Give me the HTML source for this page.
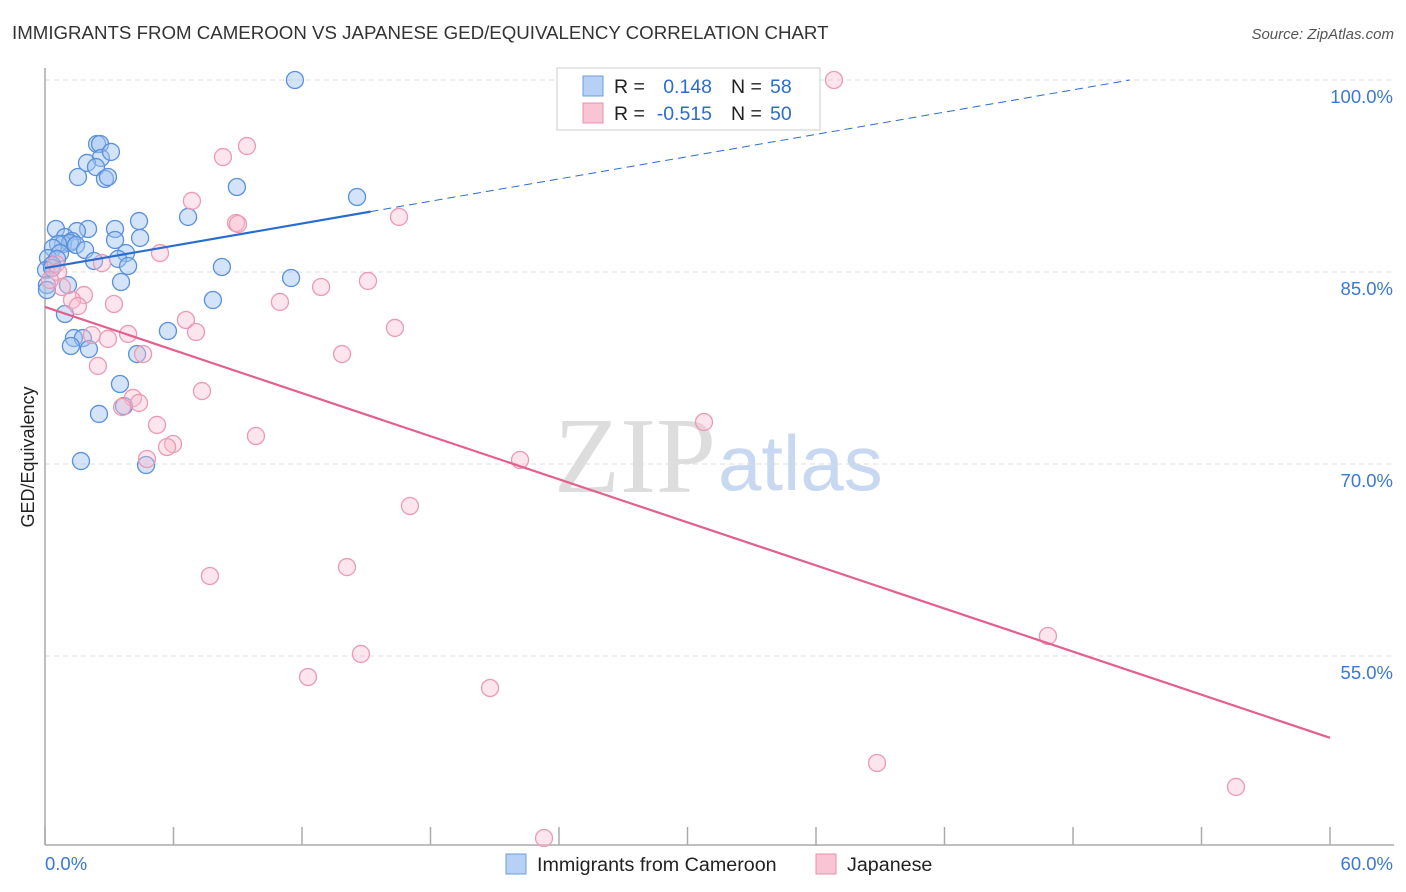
<!DOCTYPE html>
<html><head><meta charset="utf-8"><style>
body{margin:0;background:#fff;font-family:"Liberation Sans",sans-serif;}
#wrap{position:relative;width:1406px;height:892px;overflow:hidden;}
</style></head><body>
<div id="wrap">
<svg id="svg" width="1406" height="892" xmlns="http://www.w3.org/2000/svg">
<text x="12" y="39" font-size="18.7" fill="#333">IMMIGRANTS FROM CAMEROON VS JAPANESE GED/EQUIVALENCY CORRELATION CHART</text>
<text x="1394" y="39" font-size="15" fill="#555" font-style="italic" text-anchor="end">Source: ZipAtlas.com</text>
<text x="34" y="457" font-size="18" fill="#222" text-anchor="middle" transform="rotate(-90 34 457)">GED/Equivalency</text>
<text x="716" y="492" font-size="108" fill="#ddd" text-anchor="end" font-family="Liberation Serif, serif">ZIP</text>
<text x="718" y="490" font-size="78" fill="#c8d8f0">atlas</text>
<g id="grid"></g><g id="axes"></g><g id="pts"></g><g id="trend"></g>
<g>
<rect x="557" y="68" width="263" height="62" fill="#fff" stroke="#ccc"/>
<rect x="583" y="76" width="20" height="20" fill="#b7d0f5" stroke="#6a9de0"/>
<rect x="583" y="103" width="20" height="20" fill="#f9c5d5" stroke="#e890ab"/>
<text x="614" y="93" font-size="19.5" fill="#222">R = </text><text x="712" y="93" font-size="19.5" fill="#2a6dd0" text-anchor="end">0.148</text>
<text x="731" y="93" font-size="19.5" fill="#222">N = </text><text x="770" y="93" font-size="19.5" fill="#2a6dd0">58</text>
<text x="614" y="120" font-size="19.5" fill="#222">R = </text><text x="712" y="120" font-size="19.5" fill="#2a6dd0" text-anchor="end">-0.515</text>
<text x="731" y="120" font-size="19.5" fill="#222">N = </text><text x="770" y="120" font-size="19.5" fill="#2a6dd0">50</text>
</g>
<g>
<rect x="506" y="854" width="20" height="20" fill="#b7d0f5" stroke="#6a9de0"/>
<text x="537" y="871" font-size="19.7" fill="#222">Immigrants from Cameroon</text>
<rect x="816" y="854" width="20" height="20" fill="#f9c5d5" stroke="#e890ab"/>
<text x="847" y="871" font-size="19.7" fill="#222">Japanese</text>
</g>
</svg>
</div>
<script>
const yTicks=[100,85,70,55];
const yTickLabels=["100.0%","85.0%","70.0%","55.0%"];
const xTickLabels=["0.0%","60.0%"];
const blueX=[11.67,2.43,2.57,2.61,3.08,1.96,2.38,1.54,2.80,2.94,8.96,14.57,6.68,4.39,0.51,2.01,1.49,3.27,4.44,3.27,0.93,1.26,0.84,1.17,0.61,1.45,0.37,1.87,0.70,3.78,3.41,2.29,0.14,0.56,3.88,8.26,0.33,0.05,0.33,11.49,3.55,1.07,0.09,0.09,7.84,0.93,5.74,1.35,1.77,1.21,2.05,4.30,3.50,2.52,3.69,1.68,4.72];
const blueY=[100,95.0,95.0,93.91,94.38,93.52,93.20,92.42,92.27,92.42,91.64,90.86,89.30,88.98,88.36,88.36,88.20,88.36,87.66,87.50,87.73,87.42,87.19,87.27,87.19,87.11,86.88,86.72,86.48,86.48,86.02,85.86,86.09,86.02,85.47,85.39,85.55,85.16,85.31,84.53,84.22,83.98,83.98,83.59,82.81,81.72,80.39,79.84,79.84,79.22,78.98,78.59,76.25,73.91,74.53,70.23,69.92];
const pinkX=[36.84,9.43,8.31,6.86,16.53,8.92,9.01,5.37,2.66,0.51,0.61,15.08,12.89,0.79,1.82,1.26,1.54,10.97,3.22,6.58,16.34,7.05,3.88,2.19,2.94,13.87,4.58,2.47,7.33,4.11,4.39,3.60,5.23,30.77,9.85,5.98,5.70,4.76,22.18,17.04,7.70,14.10,14.75,12.28,20.78,46.83,38.85,55.61,23.30,0.23];
const pinkY=[100,94.84,93.98,90.55,89.30,88.83,88.75,86.48,85.70,85.63,85.0,84.30,83.83,83.83,83.20,82.81,82.34,82.66,82.50,81.25,80.63,80.31,80.16,80.08,79.77,78.59,78.59,77.66,75.70,75.16,74.77,74.45,73.05,73.28,72.19,71.56,71.33,70.39,70.31,66.72,61.25,61.95,55.16,53.36,52.50,56.56,46.64,44.77,40.78,84.38];
const blueTrend=[85.31,0.29]; // intercept, slope
const pinkTrend=[82.27,-0.561];
const ns="http://www.w3.org/2000/svg";
const X=v=>45+v*(1285/60), Y=v=>80+(100-v)*12.8;
function mk(tag,attrs,parent){const e=document.createElementNS(ns,tag);for(const k in attrs)e.setAttribute(k,attrs[k]);document.getElementById(parent).appendChild(e);return e;}
yTicks.forEach((t,i)=>{
 const l=mk('line',{x1:45,x2:1394,y1:Y(t),y2:Y(t),stroke:'#ddd','stroke-dasharray':'5,4'},'grid');
 
 
 const tx=mk('text',{x:1393,y:Y(t)+23,'font-size':18.5,fill:'#3a78d6','text-anchor':'end'},'grid');
 tx.textContent=yTickLabels[i];
 
 
});
let a=mk('line',{x1:45,x2:45,y1:68,y2:845,stroke:'#aaa','stroke-width':1.5},'axes');


a=mk('line',{x1:45,x2:1394,y1:845,y2:845,stroke:'#aaa','stroke-width':1.5},'axes');


for(let i=0;i<=10;i++){const t=mk('line',{x1:X(i*6),x2:X(i*6),y1:827,y2:845,stroke:'#aaa','stroke-width':1.5},'axes');
 
 }
let t0=mk('text',{x:45,y:870,'font-size':18.5,fill:'#3a78d6'},'axes');t0.textContent=xTickLabels[0];


let t1=mk('text',{x:1393,y:870,'font-size':18.5,fill:'#3a78d6','text-anchor':'end'},'axes');t1.textContent=xTickLabels[1];


blueX.forEach((v,i)=>{const c=mk('circle',{cx:X(v),cy:Y(blueY[i]),r:8.5,fill:'rgba(160,195,240,0.45)',stroke:'#5a90dc','stroke-width':1.3},'pts');
 
 });
pinkX.forEach((v,i)=>{const c=mk('circle',{cx:X(v),cy:Y(pinkY[i]),r:8.5,fill:'rgba(248,190,208,0.4)',stroke:'#ec9ab4','stroke-width':1.3},'pts');
 
 });
const [ba,bb]=blueTrend,[pa,pb]=pinkTrend;
let l=mk('line',{x1:X(0),y1:Y(ba),x2:X(15.2),y2:Y(ba+bb*15.2),stroke:'#2a6dd0','stroke-width':2.2},'trend');


const xe=Math.min(60,(100-ba)/bb);
l=mk('line',{x1:X(15.2),y1:Y(ba+bb*15.2),x2:X(xe),y2:Y(ba+bb*xe),stroke:'#2a6dd0','stroke-width':1,'stroke-dasharray':'8,5'},'trend');


l=mk('line',{x1:X(0),y1:Y(pa),x2:X(60),y2:Y(pa+pb*60),stroke:'#e4608c','stroke-width':2.2},'trend');


</script>
</body></html>
